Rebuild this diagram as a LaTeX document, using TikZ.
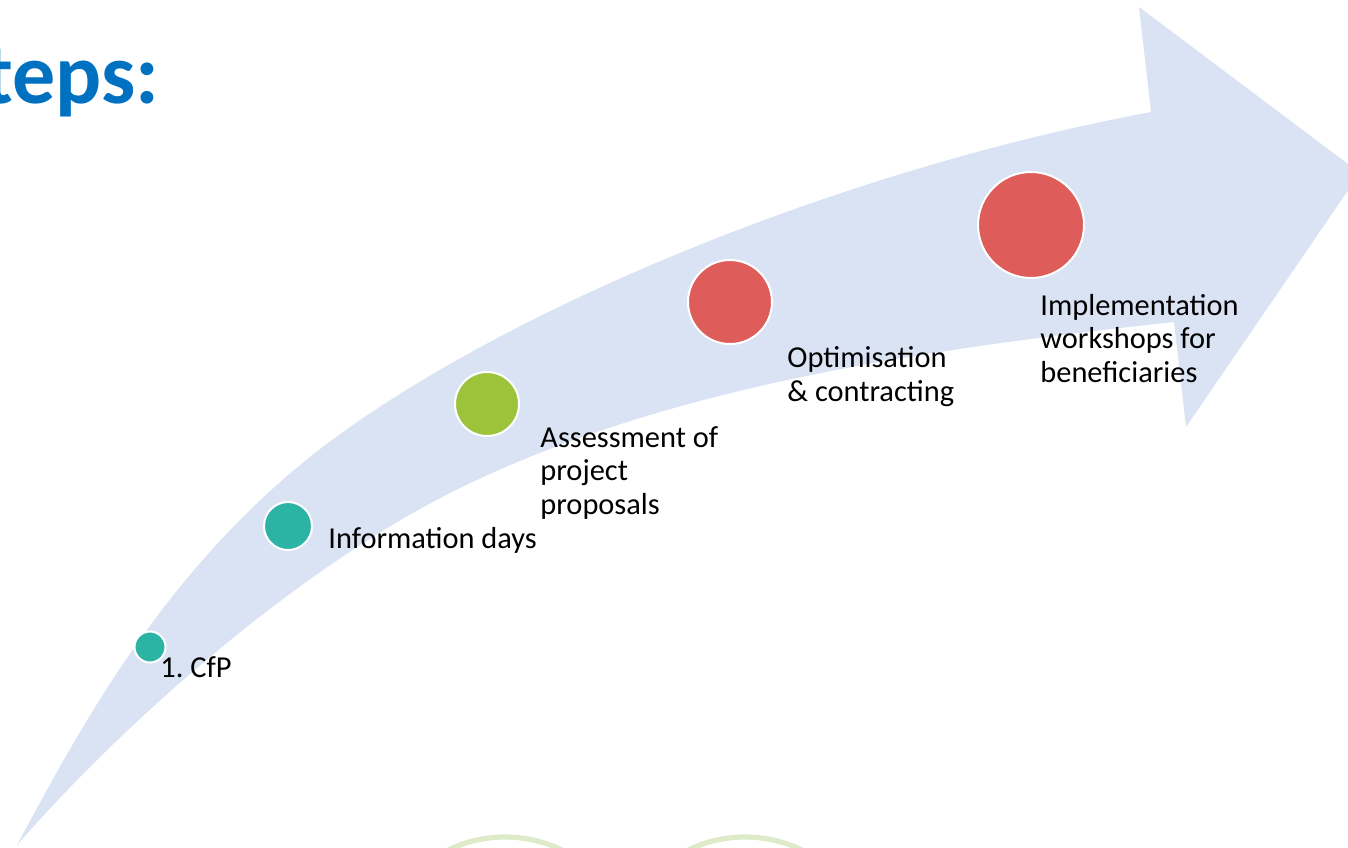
\documentclass[tikz,border=0pt]{standalone}
\usepackage{fontspec}
\setmainfont{Carlito}
\frenchspacing
\definecolor{arrowblue}{HTML}{DAE3F3}
\definecolor{titleblue}{HTML}{0070C0}
\definecolor{dotteal}{HTML}{2BB3A3}
\definecolor{dotgreen}{HTML}{9DC33B}
\definecolor{dotred}{HTML}{DE5C5A}
\definecolor{ringgreen}{HTML}{DDEBC8}
\begin{document}
\begin{tikzpicture}[x=0.5pt,y=-0.5pt]

        \useasboundingbox (0,0) rectangle (1348,847);
        \clip (0,0) rectangle (1348,847);

        \fill[arrowblue] (17,845) .. controls (79,731) and (170,553) .. (350,427)
          .. controls (538,295) and (856,167) .. (1151,112)
          -- (1139,7) -- (1360,173) -- (1186,427) -- (1174,322)
          .. controls (935,348) and (664,385) .. (450,493)
          .. controls (298,570) and (129,717) .. (17,845) -- cycle;

        \begin{scope}[ringgreen, line width=2.6pt]
          \draw (505,967) circle (130);
          \draw (745,967) circle (130);
        \end{scope}

        \node[anchor=base east, inner sep=0, text=titleblue,
          font=\bfseries\fontsize{43}{50}\selectfont] (title) at (160,103) {teps:};

        \begin{scope}[every node/.style={circle,draw=white,line width=1pt,inner sep=0}]
          \node[fill=dotteal,  minimum size=15.5pt] (cfp)    at (150,647)  {};
          \node[fill=dotteal,  minimum size=24pt]   (info)   at (288,526)  {};
          \node[fill=dotgreen, minimum size=32pt]   (assess) at (487,404)  {};
          \node[fill=dotred,   minimum size=42pt]   (optim)  at (730,302)  {};
          \node[fill=dotred,   minimum size=53pt]   (impl)   at (1031,225) {};
        \end{scope}

        \begin{scope}[every node/.style={anchor=base west,inner sep=0,align=left,
            font=\fontsize{15.2}{16.75}\selectfont}]
          \node (cfptext)    at (160,677)  {1. CfP};
          \node (infotext)   at (328,548)  {Information days};
          \node (assesstext) at (540,514)  {Assessment of\\project\\proposals};
          \node (optimtext)  at (787,401)  {Optimisation\\\& contracting};
          \node (impltext)   at (1040,382) {Implementation\\workshops for\\beneficiaries};
        \end{scope}

      \end{tikzpicture}
\end{document}
